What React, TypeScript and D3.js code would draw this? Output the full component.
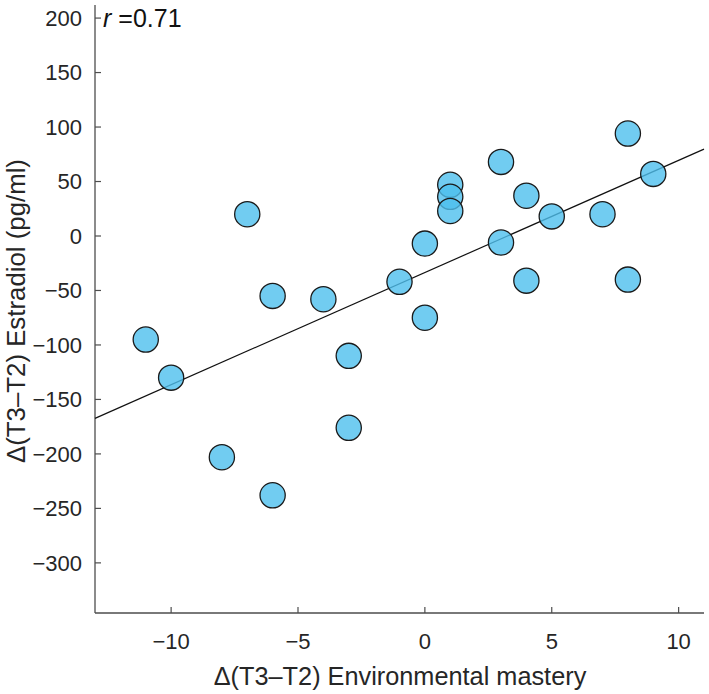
import React from "react";
import * as d3 from "d3";

// Data
const masteryChange: number[] = [-11, -10, -8, -7, -6, -6, -4, -3, -3, -1, 0, 0, 1, 1, 1, 3, 3, 4, 4, 5, 7, 8, 8, 9];
const estradiolChange: number[] = [-95, -130, -203, 20, -55, -238, -58, -110, -176, -42, -7, -75, 47, 36, 23, 68, -6, 37, -41, 18, 20, 94, -40, 57];
const xTicks: number[] = [-10, -5, 0, 5, 10];
const yTicks: number[] = [200, 150, 100, 50, 0, -50, -100, -150, -200, -250, -300];
const xDomain: [number, number] = [-13, 11];
const yDomain: [number, number] = [-346, 212];
const rLabel = "0.71";
const xTitle = "\u0394(T3\u2013T2) Environmental mastery";
const yTitle = "\u0394(T3\u2013T2) Estradiol (pg/ml)";

const W = 709;
const H = 694;
const FONT = "'Liberation Sans', Arial, Helvetica, sans-serif";
const TXT = "#262626";
const AX = "#4d4d4d";

const fmt = (v: number) => (v < 0 ? "\u2212" + Math.abs(v) : String(v));

export default function App() {
  const x = d3.scaleLinear().domain(xDomain).range([95, 704]);
  const y = d3.scaleLinear().domain(yDomain).range([613, 5]);

  // least-squares fit line from the data
  const mx = d3.mean(masteryChange) as number;
  const my = d3.mean(estradiolChange) as number;
  let sxy = 0;
  let sxx = 0;
  masteryChange.forEach((v, i) => {
    sxy += (v - mx) * (estradiolChange[i] - my);
    sxx += (v - mx) * (v - mx);
  });
  const slope = sxy / sxx;
  const icpt = my - slope * mx;
  const fit = (v: number) => icpt + slope * v;
  const line = d3.line<number>().x((d) => x(d)).y((d) => y(fit(d)));

  const points = masteryChange.map((v, i) => ({ xv: v, yv: estradiolChange[i] }));
  const x0 = x.range()[0];
  const yb = y.range()[0];

  return (
    <svg
      width={W}
      height={H}
      style={{ position: "absolute", left: 0, top: 0, background: "#fff" }}
      fontFamily={FONT}
    >
      <rect x={0} y={0} width={W} height={H} fill="#fff" />
      {/* axes */}
      <line x1={x0} x2={x0} y1={y.range()[1]} y2={yb} stroke={AX} strokeWidth={1.3} />
      <line x1={x0} x2={x.range()[1]} y1={yb} y2={yb} stroke={AX} strokeWidth={1.3} />
      {yTicks.map((t) => (
        <g key={"y" + t}>
          <line x1={x0} x2={x0 + 6} y1={y(t)} y2={y(t)} stroke={AX} strokeWidth={1.2} />
          <text x={82} y={y(t)} dy="0.36em" textAnchor="end" fontSize={22} fill={TXT}>
            {fmt(t)}
          </text>
        </g>
      ))}
      {xTicks.map((t) => (
        <g key={"x" + t}>
          <line x1={x(t)} x2={x(t)} y1={yb} y2={yb - 6} stroke={AX} strokeWidth={1.2} />
          <text x={x(t)} y={649} textAnchor="middle" fontSize={22} fill={TXT}>
            {fmt(t)}
          </text>
        </g>
      ))}
      {/* fit line */}
      <path d={line(xDomain) || ""} fill="none" stroke="#111" strokeWidth={1.2} />
      {/* points */}
      {points.map((p, i) => (
        <circle
          key={i}
          cx={x(p.xv)}
          cy={y(p.yv)}
          r={12.6}
          fill="rgb(77,191,237)"
          fillOpacity={0.8}
          stroke="#1a1a1a"
          strokeWidth={1.3}
        />
      ))}
      {/* titles */}
      <text x={400} y={685} textAnchor="middle" fontSize={25.3} fill={TXT}>
        {xTitle}
      </text>
      <text
        transform={`translate(25,311) rotate(-90)`}
        textAnchor="middle"
        fontSize={25.8}
        fill={TXT}
      >
        {yTitle}
      </text>
      <text x={103} y={27} fontSize={25} fill="#111">
        <tspan fontStyle="italic">r</tspan>
        <tspan> ={rLabel}</tspan>
      </text>
    </svg>
  );
}
